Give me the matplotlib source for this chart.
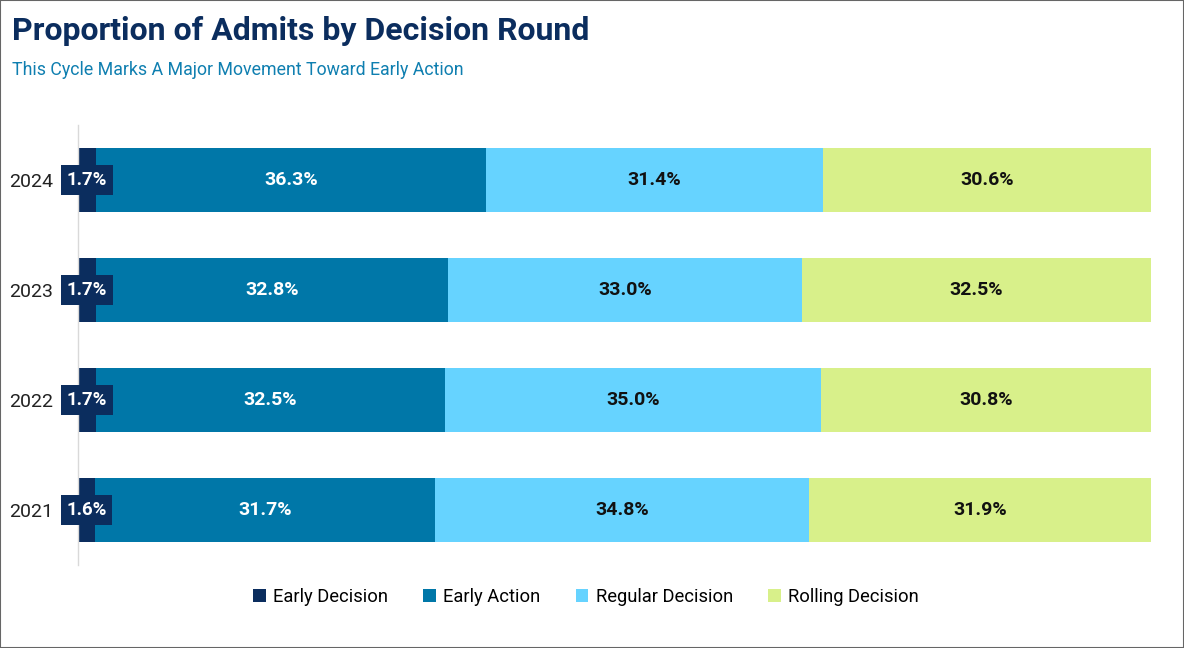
import numpy as np
import matplotlib.pyplot as plt
from matplotlib.patches import Rectangle

plt.rcParams['font.family'] = ['Roboto', 'DejaVu Sans']

years = ["2021", "2022", "2023", "2024"]
early_decision = [1.6, 1.7, 1.7, 1.7]
early_action = [31.7, 32.5, 32.8, 36.3]
regular_decision = [34.8, 35.0, 33.0, 31.4]
rolling_decision = [31.9, 30.8, 32.5, 30.6]

series_names = ["Early Decision", "Early Action", "Regular Decision", "Rolling Decision"]
colors = ["#0b2d5e", "#0077a8", "#66d3ff", "#d8f08a"]
text_colors = ["white", "white", "#111111", "#111111"]

fig = plt.figure(figsize=(11.84, 6.48), dpi=100)
ax = fig.add_axes([78 / 1184, 1 - 565 / 648, (1151 - 78) / 1184, 440 / 648])

y = np.arange(len(years))
left = np.zeros(len(years))
all_series = [early_decision, early_action, regular_decision, rolling_decision]
for name, vals, col, tcol in zip(series_names, all_series, colors, text_colors):
    vals = np.array(vals)
    ax.barh(y, vals, left=left, height=0.58, color=col, label=name)
    for yi, (l, v) in enumerate(zip(left, vals)):
        if name == "Early Decision":
            ax.text(l + v / 2, yi, f"{v:.1f}%", ha="center", va="center",
                    color="white", fontsize=13.5, fontweight="bold",
                    bbox=dict(boxstyle="square,pad=0.3", fc=col, ec="none"))
        else:
            ax.text(l + v / 2, yi, f"{v:.1f}%", ha="center", va="center",
                    color=tcol, fontsize=14, fontweight="bold")
    left += vals

ax.set_xlim(0, 100)
ax.set_ylim(-0.5, 3.5)
ax.set_yticks(y)
ax.set_yticklabels(years, fontsize=14, color="#222222")
ax.tick_params(axis="y", length=0, pad=18)
ax.set_xticks([])
for s in ["top", "right", "bottom"]:
    ax.spines[s].set_visible(False)
ax.spines["left"].set_color("#d9d9d9")
ax.spines["left"].set_linewidth(1)

fig.text(12 / 1184, 1 - 31 / 648, "Proportion of Admits by Decision Round",
         fontsize=23, fontweight="bold", color="#0b2d5e", va="center", ha="left")
fig.text(12 / 1184, 1 - 70 / 648, "This Cycle Marks A Major Movement Toward Early Action",
         fontsize=12.8, color="#0f7fb0", va="center", ha="left")

fig.legend(loc="center", bbox_to_anchor=(586 / 1184, 1 - 597 / 648), ncol=4,
           frameon=False, fontsize=13.2, handlelength=0.7, handleheight=0.7,
           handletextpad=0.4, columnspacing=1.9)

fig.patches.append(Rectangle((0, 0), 1, 1, transform=fig.transFigure, fill=False,
                             ec="#666666", lw=1.5))

fig.savefig("out.png", dpi=100)
